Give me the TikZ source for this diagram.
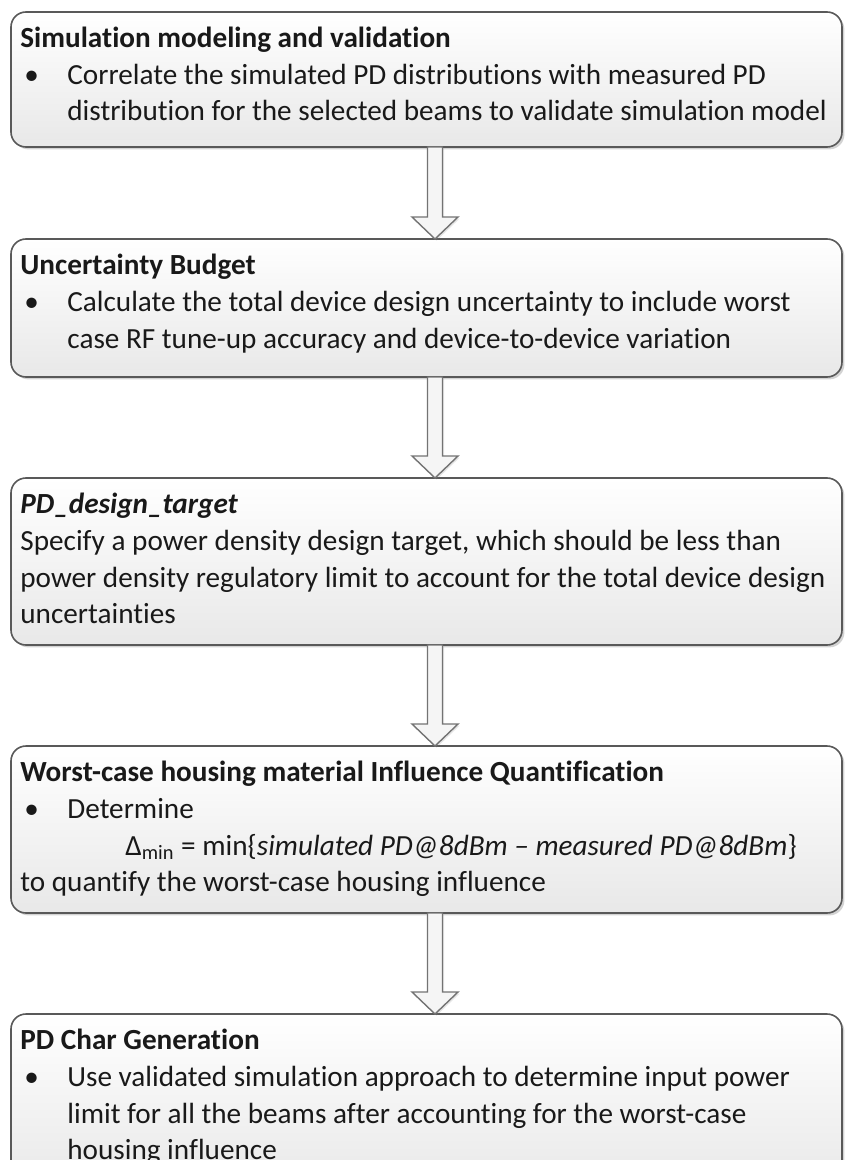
\documentclass[tikz,border=0pt]{standalone}
\usepackage{fontspec}
\setmainfont{Carlito}[Ligatures=NoCommon]
\usetikzlibrary{positioning,calc,shadows}

\newcommand{\bul}{\makebox[23.5pt][l]{\hspace{2pt}\textbullet}}
\newcommand{\ind}{\hspace*{23.5pt}}
\newcommand{\fst}{\rule{0pt}{12pt}}
% block arrow between two boxes
\newcommand{\flowarrow}[2]{%
  \path ($(#1.south)+(8.5,0)$) coordinate (#1-out)
        ($(#2.north)+(8.5,0)$) coordinate (#2-in);
  \draw[arrowbody] ($(#1-out)+(-7.5,0)$) -- ($(#1-out |- #2-in)+(-7.5,-22)$)
     -- ($(#2-in)+(-23,-22)$) -- (#2-in) -- ($(#2-in)+(23,-22)$)
     -- ($(#1-out |- #2-in)+(7.5,-22)$) -- ($(#1-out)+(7.5,0)$) -- cycle;}

\begin{document}
\begin{tikzpicture}[x=0.5pt,y=-0.5pt,node distance=50.5pt,
    stepbox/.style={draw=black!65,line width=0.8pt,rounded corners=7.5pt,
      top color=white,bottom color=black!9,minimum width=415.5pt,outer sep=0pt,
      drop shadow={opacity=0.35,shadow xshift=1.2pt,shadow yshift=-1.2pt}},
    steptext/.style={inner sep=0pt,align=left,
      font=\fontsize{14.6pt}{18.4pt}\selectfont,text=black!90},
    arrowbody/.style={draw=black!55,line width=0.7pt,fill=black!4,
      drop shadow={opacity=0.2,shadow xshift=0.8pt,shadow yshift=-0.8pt}}]
  \useasboundingbox (0,0) rectangle (846,1160);
  \clip (0,0) rectangle (846,1160);

  % the five steps
  \node[stepbox,minimum height=67.5pt] (sim) at (426.5,79.5) {};
  \node[stepbox,minimum height=69pt,below=46pt of sim] (unc) {};
  \node[stepbox,minimum height=83.5pt,below=of unc] (target) {};
  \node[stepbox,minimum height=83.5pt,below=of target] (housing) {};
  \node[stepbox,minimum height=88pt,below=of housing] (pdchar) {};

  \node[steptext,below right=5.5pt and 4.5pt of sim.north west] (simT)
    {\fst\textbf{Simulation modeling and validation}\\
     \bul Correlate the simulated PD distributions with measured PD\\
     \ind distribution for the selected beams to validate simulation model};
  \node[steptext,below right=5.5pt and 4.5pt of unc.north west] (uncT)
    {\fst\textbf{Uncertainty Budget}\\
     \bul Calculate the total device design uncertainty to include worst\\
     \ind case RF tune-up accuracy and device-to-device variation};
  \node[steptext,below right=5.5pt and 4.5pt of target.north west] (targetT)
    {\fst\textbf{\textit{PD\_design\_target}}\\
     Specify a power density design target, which should be less than\\
     power density regulatory limit to account for the total device design\\
     uncertainties};
  \node[steptext,below right=5.5pt and 4.5pt of housing.north west] (housingT)
    {\fst\textbf{Worst-case housing material Influence Quantification}\\
     \bul Determine\\
     \hspace*{52.5pt}Δ\textsubscript{min} = min\{\textit{simulated PD@8dBm – measured PD@8dBm}\}\\
     to quantify the worst-case housing influence};
  \node[steptext,below right=5.5pt and 4.5pt of pdchar.north west] (pdcharT)
    {\fst\textbf{PD Char Generation}\\
     \bul Use validated simulation approach to determine input power\\
     \ind limit for all the beams after accounting for the worst-case\\
     \ind housing influence};

  % arrows
  \flowarrow{sim}{unc}
  \flowarrow{unc}{target}
  \flowarrow{target}{housing}
  \flowarrow{housing}{pdchar}
\end{tikzpicture}
\end{document}
